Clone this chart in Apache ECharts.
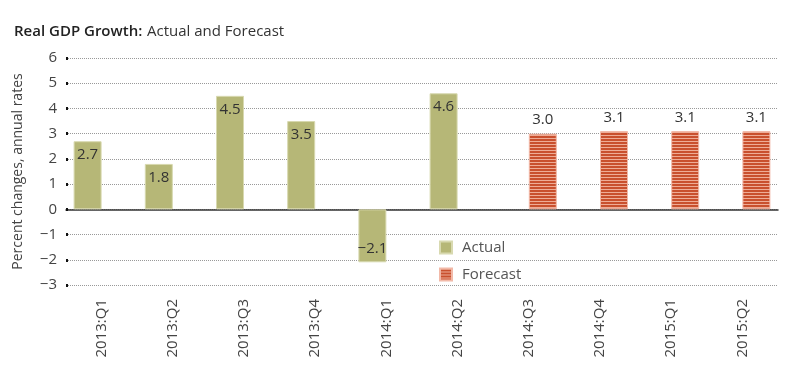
<!DOCTYPE html>
<html><head><meta charset="utf-8">
<script src="https://cdn.jsdelivr.net/npm/echarts@6/dist/echarts.min.js"></script>
<style>html,body{margin:0;padding:0;background:#fff}#c{width:800px;height:386px}</style>
</head><body><div id="c"></div>
<script>
const categories = ['2013:Q1','2013:Q2','2013:Q3','2013:Q4','2014:Q1','2014:Q2','2014:Q3','2014:Q4','2015:Q1','2015:Q2'];
const actual = [2.7, 1.8, 4.5, 3.5, -2.1, 4.6, null, null, null, null];
const forecast = [null, null, null, null, null, null, 3.0, 3.1, 3.1, 3.1];
const yTicks = [-3, -2, -1, 0, 1, 2, 3, 4, 5, 6];

const FONT = 'Open Sans';
const cv = document.createElement('canvas');
cv.width = 4; cv.height = 3;
const cx = cv.getContext('2d');
cx.fillStyle = '#c9502e'; cx.fillRect(0,0,4,3);
cx.fillStyle = '#eeac96'; cx.fillRect(0,0,4,1);
const stripe = {image: cv, repeat: 'repeat'};

const fmt = v => v.toFixed(1).replace('-', '\u2212');
const chart = echarts.init(document.getElementById('c'), null, {renderer:'canvas'});
chart.setOption({
  animation: false,
  textStyle: {fontFamily: FONT},
  title: {
    left: 9, top: 18,
    text: '{b|Real GDP Growth:} {r|Actual and Forecast}',
    textStyle: {rich: {
      b: {fontFamily: FONT, fontSize: 15, fontWeight: 600, color: '#222'},
      r: {fontFamily: FONT, fontSize: 15, fontWeight: 400, color: '#333'}
    }}
  },
  legend: {
    orient: 'vertical', left: 434, top: 235, itemWidth: 12, itemHeight: 12, itemGap: 12,
    icon: 'rect',
    textStyle: {fontFamily: FONT, fontSize: 15, color: '#555', padding: [0, 0, 0, 5]},
    data: ['Actual', 'Forecast']
  },
  grid: {left: 66, right: 22, top: 58, bottom: 101},
  xAxis: {
    type: 'category', data: categories,
    axisLine: {onZero: true, lineStyle: {color: '#333', width: 1.5}},
    axisTick: {show: false},
    axisLabel: {rotate: 90, fontSize: 15, color: '#444', margin: 14, fontFamily: FONT}
  },
  yAxis: {
    type: 'value', min: yTicks[0], max: yTicks[yTicks.length-1], interval: 1,
    name: 'Percent changes, annual rates', nameLocation: 'middle', nameGap: 41,
    nameTextStyle: {fontSize: 14, color: '#444', fontFamily: FONT},
    axisLine: {show: false},
    axisTick: {show: true, inside: true, length: 2, lineStyle: {color: '#111', width: 3}},
    axisLabel: {fontSize: 15, color: '#444', margin: 9, fontFamily: FONT,
      formatter: v => String(v).replace('-', '\u2212')},
    splitLine: {lineStyle: {type: 'dotted', color: '#999', width: 1}}
  },
  series: [
    {
      name: 'Actual', type: 'bar', barWidth: 28, barGap: '0%',
      itemStyle: {color: '#b6b777', borderColor: '#d8d9b0', borderWidth: 1},
      data: actual.map(v => v === null ? '-' : {value: v,
        label: {show: true, position: v < 0 ? 'insideBottom' : 'insideTop', distance: 6,
          formatter: p => fmt(p.value), fontSize: 15, color: '#333', fontFamily: FONT}})
    },
    {
      name: 'Forecast', type: 'bar', barWidth: 28,
      itemStyle: {color: stripe, borderColor: '#f2b9a8', borderWidth: 1},
      data: forecast.map(v => v === null ? '-' : v),
      label: {show: true, position: 'top', distance: 6, formatter: p => fmt(p.value),
        fontSize: 15, color: '#333', fontFamily: FONT}
    }
  ]
});
</script></body></html>
